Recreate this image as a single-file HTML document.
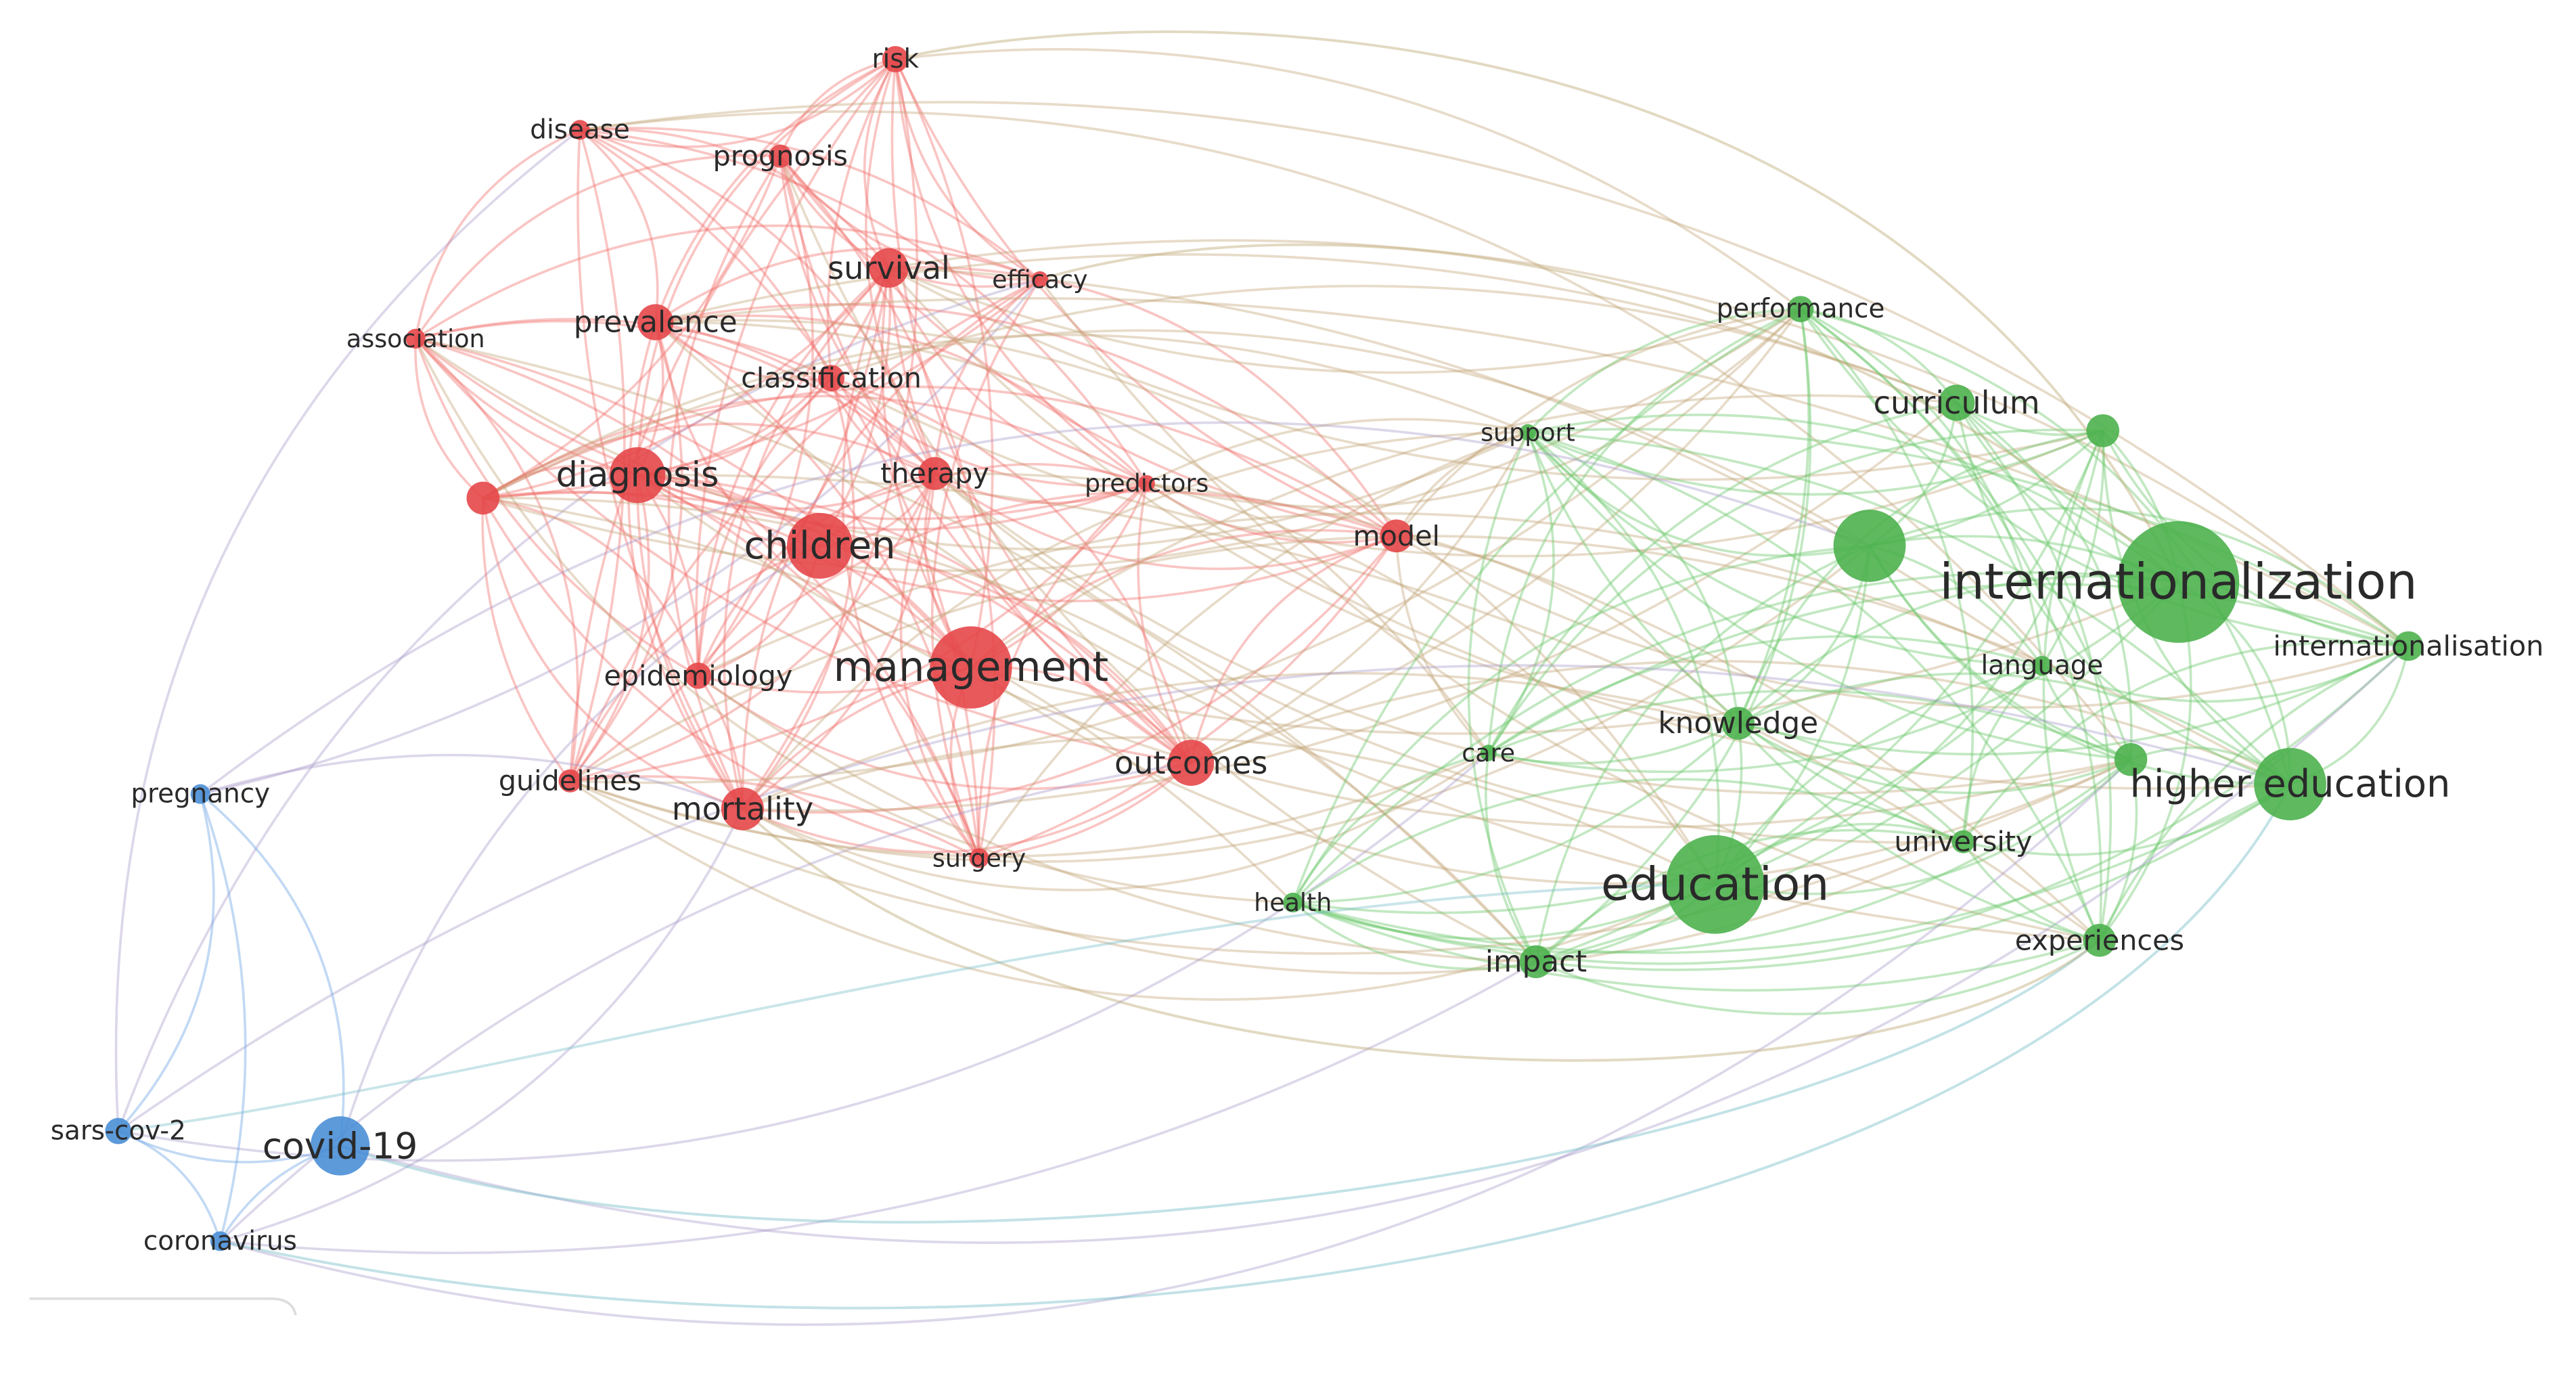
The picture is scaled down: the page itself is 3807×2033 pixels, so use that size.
<!DOCTYPE html>
<html><head><meta charset="utf-8"><style>
html,body{margin:0;padding:0;background:#fff;}
svg{display:block;}
text{font-family:"DejaVu Sans","Liberation Sans",sans-serif;fill:#2a2a2a;text-anchor:middle;dominant-baseline:central;}
</style></head><body>
<svg id="s" width="3807" height="2033" viewBox="0 0 1568 837" preserveAspectRatio="none" xmlns="http://www.w3.org/2000/svg">
<rect width="1568" height="837" fill="#fff"/>
<path d="M18,790 L165,790 Q178,790 180,800" fill="none" stroke="#ddd" stroke-width="1.5"/>
<g id="e" fill="none"></g>
<g fill="none" stroke-width="1.6">
<path d="M545,36 C700,0 1150,-10 1326,354" stroke="rgba(190,170,120,0.45)"/>
<path d="M207,697 C500,800 1100,720 1278,572" stroke="rgba(120,190,200,0.45)"/>
<path d="M134,755 C600,860 1250,760 1394,477" stroke="rgba(120,190,200,0.45)"/>
<path d="M452,492 C650,680 1150,680 1278,572" stroke="rgba(190,170,120,0.45)"/>
<path d="M72,688 C300,660 700,540 1044,538" stroke="rgba(120,190,200,0.4)"/>
<path d="M633,170 C800,120 1100,150 1326,354" stroke="rgba(190,170,120,0.45)"/>
</g>
<g id="n"></g>
<g id="t"></g>
</svg>
<script>
var N=[
["risk",545,36,8,"r",16],["disease",353,79,6,"r",16],["prognosis",475,95,7,"r",17],["survival",541,163,12,"r",19],
["efficacy",633,170,5,"r",15],["association",253,206,6,"r",15],["prevalence",399,196,11,"r",18],["classification",506,230,8,"r",17],
["diagnosis",388,289,17,"r",21],["therapy",569,288,10,"r",17],["predictors",698,294,5,"r",15],["",294,303,10,"r",16],
["children",499,332,20,"r",23],["model",850,326,10,"r",17],["management",591,406,25,"r",25],["epidemiology",425,411,8,"r",17],
["outcomes",725,464,14,"r",19],["guidelines",347,475,7,"r",17],["mortality",452,492,13,"r",19],["surgery",596,522,6,"r",15],
["performance",1096,188,8,"g",16],["curriculum",1191,245,11,"g",19],["",1280,262,10,"g",16],["support",930,263,5,"g",15],
["",1138,332,22,"g",16],["internationalization",1326,354,37,"g",30],["internationalisation",1466,393,9,"g",17],["language",1243,405,6,"g",16],
["knowledge",1058,440,10,"g",18],["care",906,458,5,"g",15],["",1297,462,10,"g",16],["higher education",1394,477,22,"g",23],
["university",1195,512,7,"g",17],["education",1044,538,30,"g",28],["health",787,549,6,"g",15],["impact",935,585,10,"g",18],
["experiences",1278,572,10,"g",17],
["pregnancy",122,483,6,"b",16],["sars-cov-2",72,688,8,"b",16],["covid-19",207,697,18,"b",22],["coronavirus",134,755,6,"b",16]];
var C={r:"#e5474a",g:"#4cb14e",b:"#4a8fd6"},L={r:"rgba(240,110,105,0.4)",g:"rgba(110,200,110,0.42)",b:"rgba(120,170,230,0.45)"};
var seed=7;function rnd(){seed=(seed*16807)%2147483647;return seed/2147483647;}
var eg=document.getElementById("e"),h="";
function edge(a,b,col){var A=N[a],B=N[b];var dx=B[1]-A[1],dy=B[2]-A[2];var k=(0.15+0.15*rnd())*(rnd()>0.5?1:-1);
var cx=(A[1]+B[1])/2-dy*k,cy=(A[2]+B[2])/2+dx*k;
h+='<path d="M'+A[1]+','+A[2]+' Q'+cx.toFixed(1)+','+cy.toFixed(1)+' '+B[1]+','+B[2]+'" stroke="'+col+'" stroke-width="1.5"/>';}
for(var i=0;i<N.length;i++)for(var j=i+1;j<N.length;j++){var a=N[i][4],b=N[j][4];var p;
if(a==b)p=(a=="b")?1:0.7;else if(a=="b"||b=="b")p=0.12;else p=0.14;
if(rnd()<p){var col=a==b?L[a]:(a=="r"&&b=="g"?"rgba(195,165,120,0.4)":"rgba(165,150,200,0.38)");edge(i,j,col);}}
eg.innerHTML=h;
var nh="",th="";
N.forEach(function(n){nh+='<circle cx="'+n[1]+'" cy="'+n[2]+'" r="'+n[3]+'" fill="'+C[n[4]]+'" fill-opacity="0.9"/>';
if(n[0])th+='<text x="'+n[1]+'" y="'+n[2]+'" font-size="'+n[5]+'">'+n[0]+'</text>';});
document.getElementById("n").innerHTML=nh;document.getElementById("t").innerHTML=th;
</script>
</body></html>
